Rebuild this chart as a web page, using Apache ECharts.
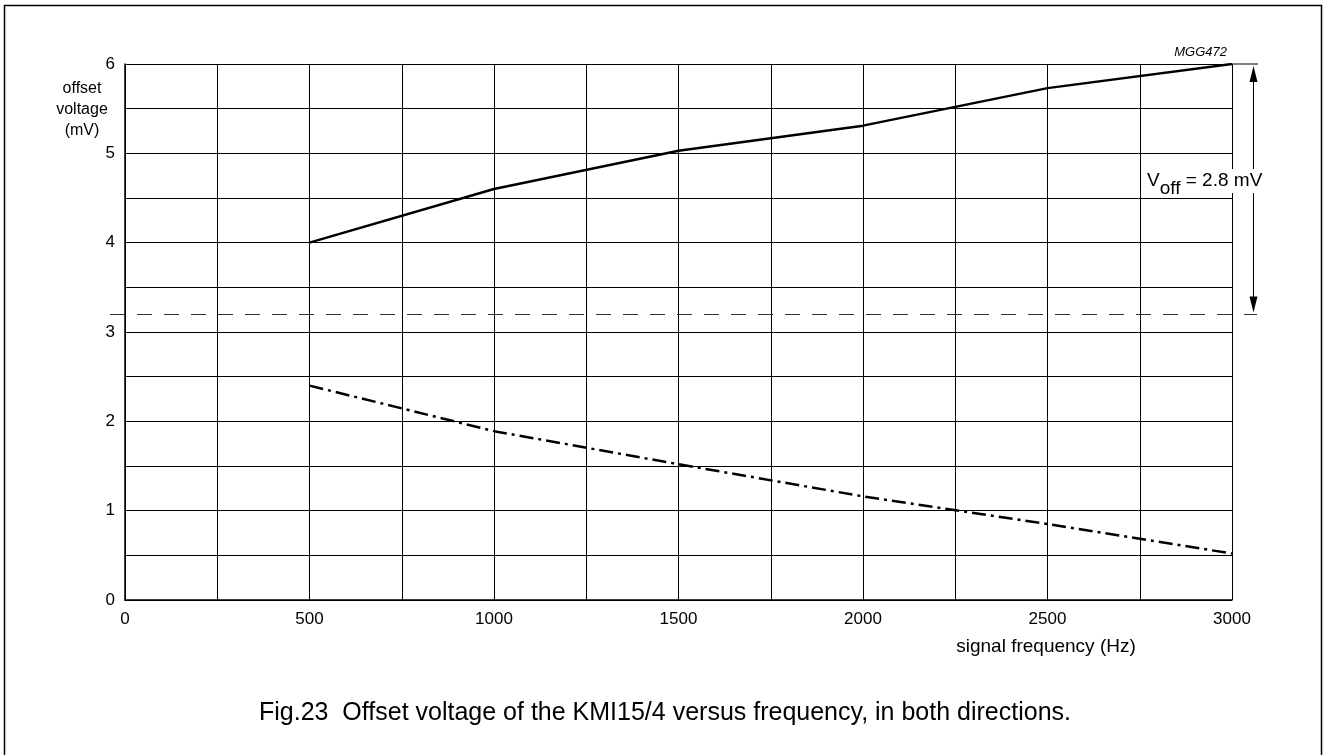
<!DOCTYPE html>
<html>
<head>
<meta charset="utf-8">
<script src="https://cdn.jsdelivr.net/npm/echarts@6/dist/echarts.min.js"></script>
<style>
html, body { margin: 0; padding: 0; background: #fff; }
#chart { width: 1326px; height: 755px; }
</style>
</head>
<body>
<div id="chart"></div>
<script>
// values
var freq = [500, 1000, 1500, 2000, 2500, 3000];
var offsetUp = [4.0, 4.6, 5.03, 5.31, 5.73, 6.0];
var offsetDown = [2.4, 1.89, 1.52, 1.16, 0.85, 0.52];
var refLevel = 3.2;
var topLevel = 6;
var xLabelStep = 500;

var font = '"Liberation Sans", Arial, sans-serif';

var dom = document.getElementById("chart");
var myChart = echarts.init(dom);

function pairs(xs, ys) {
    return xs.map(function (x, i) { return [x, ys[i]]; });
}

var option = {
    animation: false,
    grid: {
        left: 125,
        right: 94,
        top: 64,
        bottom: 155
    },
    xAxis: {
        type: 'value',
        min: 0,
        max: 3000,
        interval: 250,
        axisLine: { lineStyle: { color: '#000', width: 1.5 } },
        axisTick: { show: false },
        axisLabel: {
            color: '#000',
            fontFamily: font,
            fontSize: 17,
            margin: 11,
            formatter: function (v) { return v % xLabelStep === 0 ? String(v) : ''; }
        },
        splitLine: { lineStyle: { color: '#000', width: 1 } }
    },
    yAxis: {
        type: 'value',
        min: 0,
        max: 6,
        interval: 0.5,
        axisLine: { show: true, lineStyle: { color: '#000', width: 1.5 } },
        axisTick: { show: false },
        axisLabel: {
            color: '#000',
            fontFamily: font,
            fontSize: 17,
            margin: 10,
            formatter: function (v) { return v % 1 === 0 ? String(v) : ''; }
        },
        splitLine: { lineStyle: { color: '#000', width: 1 } }
    },
    series: [
        {
            type: 'line',
            data: pairs(freq, offsetUp),
            symbol: 'none',
            lineStyle: { color: '#000', width: 2.5 }
        },
        {
            type: 'line',
            data: pairs(freq, offsetDown),
            symbol: 'none',
            lineStyle: { color: '#000', width: 2.5, type: [14, 5, 3, 5] }
        }
    ]
};

myChart.setOption(option, true);

// annotations placed through the chart's own scales
var pLeft = myChart.convertToPixel({ gridIndex: 0 }, [0, refLevel]);
var pRight = myChart.convertToPixel({ gridIndex: 0 }, [3000, refLevel]);
var pTop = myChart.convertToPixel({ gridIndex: 0 }, [3000, topLevel]);
var pName = myChart.convertToPixel({ gridIndex: 0 }, [0, 5.5]);
var pBottom = myChart.convertToPixel({ gridIndex: 0 }, [3000, 0]);
var arrowX = Math.round(pRight[0] + 21) + 0.5;
var yRef = Math.round(pLeft[1]) + 0.5;
var yTop = pTop[1];

myChart.setOption({
    graphic: [
        // outer frame
        {
            type: 'rect',
            shape: { x: 4.5, y: 5.5, width: 1317, height: 760 },
            style: { fill: 'none', stroke: '#000', lineWidth: 1.5 },
            silent: true
        },
        // dashed reference level
        {
            type: 'line',
            shape: { x1: pLeft[0] - 15, y1: yRef, x2: pRight[0] + 25, y2: yRef },
            style: { stroke: '#333', lineWidth: 1, lineDash: [15, 12] },
            z: 5
        },
        // short line at top level
        {
            type: 'line',
            shape: { x1: pTop[0], y1: yTop, x2: pTop[0] + 26, y2: yTop },
            style: { stroke: '#000', lineWidth: 1 }
        },
        // arrow shaft
        {
            type: 'line',
            shape: { x1: arrowX, y1: yTop + 6, x2: arrowX, y2: yRef - 6 },
            style: { stroke: '#000', lineWidth: 1 }
        },
        {
            type: 'polygon',
            shape: { points: [[arrowX, yTop + 2], [arrowX - 4, yTop + 18], [arrowX + 4, yTop + 18]] },
            style: { fill: '#000' }
        },
        {
            type: 'polygon',
            shape: { points: [[arrowX, yRef - 2], [arrowX - 4, yRef - 18], [arrowX + 4, yRef - 18]] },
            style: { fill: '#000' }
        },
        {
            type: 'text',
            x: pRight[0] - 86,
            y: 169,
            z: 10,
            style: {
                text: '{v|V}{s|off}{v| = 2.8 mV}',
                backgroundColor: '#fff',
                padding: [0, 1, 0, 1],
                rich: {
                    v: { fontFamily: font, fontSize: 19, fill: '#000', lineHeight: 24 },
                    s: { fontFamily: font, fontSize: 19, fill: '#000', lineHeight: 24, padding: [15, 0, 0, 0] }
                }
            }
        },
        {
            type: 'text',
            x: pTop[0] - 5,
            y: yTop - 18,
            style: {
                text: 'MGG472',
                fontFamily: font,
                fontStyle: 'italic',
                fontSize: 13,
                fill: '#000',
                align: 'right'
            }
        },
        // y axis name
        {
            type: 'text',
            x: 82,
            y: pName[1] + 1,
            style: {
                text: 'offset\nvoltage\n(mV)',
                fontFamily: font,
                fontSize: 16,
                lineHeight: 21,
                fill: '#000',
                align: 'center',
                verticalAlign: 'middle'
            }
        },
        // x axis name
        {
            type: 'text',
            x: 1046,
            y: pBottom[1] + 47,
            style: {
                text: 'signal frequency (Hz)',
                fontFamily: font,
                fontSize: 19,
                fill: '#000',
                align: 'center',
                verticalAlign: 'middle'
            }
        },
        // caption
        {
            type: 'text',
            x: 665,
            y: 713,
            style: {
                text: 'Fig.23  Offset voltage of the KMI15/4 versus frequency, in both directions.',
                fontFamily: font,
                fontSize: 25,
                fill: '#000',
                align: 'center',
                verticalAlign: 'middle'
            }
        }
    ]
});

window.addEventListener("resize", function () {
    myChart.resize();
});
</script>
</body>
</html>
